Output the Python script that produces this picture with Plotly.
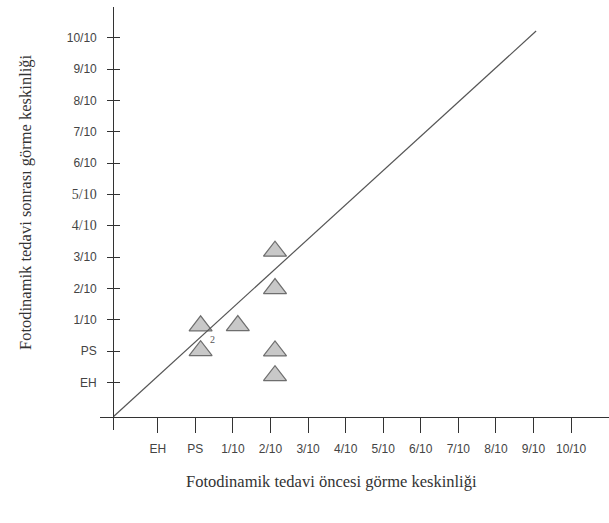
import plotly.graph_objects as go

# Visual acuity categories (index 1..12 on both axes)
x_tick_labels = ["EH", "PS", "1/10", "2/10", "3/10", "4/10", "5/10",
                 "6/10", "7/10", "8/10", "9/10", "10/10"]
y_tick_labels = ["EH", "PS", "1/10", "2/10", "3/10",
                 '<span style="font-family:serif;font-size:14px">4/10</span>',
                 '<span style="font-family:serif;font-size:14px">5/10</span>',
                 "6/10", "7/10", "8/10", "9/10", "10/10"]
tick_positions = list(range(1, 13))

# Patients: acuity before (x) and after (y) photodynamic therapy
pre_acuity = [2.14, 3.13, 2.14, 4.12, 4.12, 4.12, 4.12]
post_acuity = [2.81, 2.82, 2.02, 5.19, 4.00, 2.01, 1.22]

# Reference diagonal (no change)
diag_x = [-0.184, 11.07]
diag_y = [-0.087, 12.21]

# Count label for overlapping point
count_label = "2"
count_pos = (2.45, 2.36)

x_title = "Fotodinamik tedavi öncesi görme keskinliği"
y_title = "Fotodinamik tedavi sonrası görme keskinliği"

origin_x, origin_y = -0.184, -0.087
x_range = [-0.538, 13.01]
y_range = [-0.511, 12.977]

W, H = 609, 523
ml, mr, mt, mb = 100, 0, 7, 93
pw, ph = W - ml - mr, H - mt - mb
ypos = (origin_x - x_range[0]) / (x_range[1] - x_range[0])
xpos = (origin_y - y_range[0]) / (y_range[1] - y_range[0])

axis_col = "#333333"
label_font = dict(family="Liberation Sans, Arial, sans-serif", size=12, color="#444444")
serif_font = dict(family="Liberation Serif, Times New Roman, serif", size=16.5, color="#333333")

fig = go.Figure()
fig.add_trace(go.Scatter(
    x=diag_x, y=diag_y, mode="lines",
    line=dict(color="#555555", width=1.2),
    yaxis="y2", hoverinfo="skip", showlegend=False))
fig.add_trace(go.Scatter(
    x=pre_acuity, y=post_acuity, mode="markers",
    marker=dict(symbol="triangle-up", size=20, color="#c8c8c8",
                line=dict(color="#6e6e6e", width=1.2)),
    showlegend=False))

fig.add_annotation(x=count_pos[0], y=count_pos[1], text=count_label,
                   showarrow=False,
                   font=dict(family="Liberation Serif, Times New Roman, serif", size=10, color="#555555"))

# axis titles placed as annotations (paper coordinates)
fig.add_annotation(xref="paper", yref="paper",
                   x=(331 - ml) / pw, y=1 - (481 - mt) / ph,
                   text=x_title, showarrow=False, font=serif_font,
                   xanchor="center", yanchor="middle")
fig.add_annotation(xref="paper", yref="paper",
                   x=(25 - ml) / pw, y=1 - (202 - mt) / ph,
                   text=y_title, showarrow=False, font=serif_font, textangle=-90,
                   xanchor="center", yanchor="middle")

fig.update_layout(
    template="none",
    width=W, height=H,
    margin=dict(l=ml, r=mr, t=mt, b=mb, pad=0),
    plot_bgcolor="white", paper_bgcolor="white",
    xaxis=dict(range=x_range, domain=[0, 1], anchor="free", position=xpos,
               automargin=False, showgrid=False, zeroline=False,
               showline=True, linecolor=axis_col, linewidth=1.3,
               tickmode="array", tickvals=tick_positions, ticktext=x_tick_labels,
               ticks="outside", ticklen=15, tickwidth=1.2, tickcolor=axis_col,
               tickfont=label_font, ticklabelstandoff=6),
    yaxis=dict(range=y_range, domain=[0, 1], anchor="free", position=ypos,
               automargin=False, showgrid=False, zeroline=False,
               showline=True, linecolor=axis_col, linewidth=1.3,
               tickmode="array", tickvals=tick_positions, ticktext=y_tick_labels,
               ticks="outside", ticklen=6, tickwidth=1.2, tickcolor=axis_col,
               tickfont=label_font, ticklabelstandoff=8),
    yaxis2=dict(range=y_range, overlaying="y", anchor="free", position=ypos,
                automargin=False, showgrid=False, zeroline=False, showline=False,
                tickmode="array", tickvals=tick_positions,
                ticks="inside", ticklen=6, tickwidth=1.2, tickcolor=axis_col,
                showticklabels=False),
)

fig.write_html("out.html", config={"displayModeBar": False},
               post_script="document.body.style.margin='0px';")
